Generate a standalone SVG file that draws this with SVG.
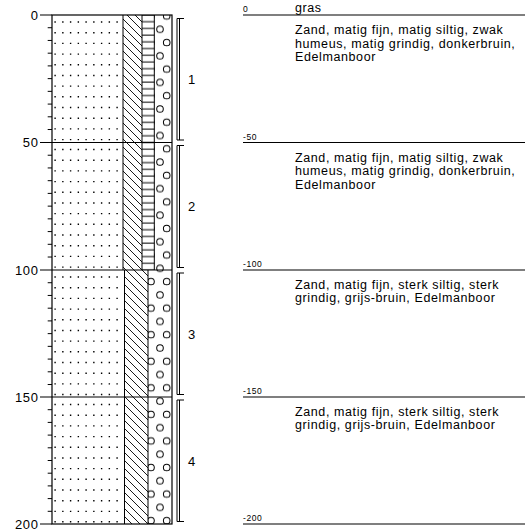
<svg xmlns="http://www.w3.org/2000/svg" width="525" height="532" viewBox="0 0 525 532">
<style>
  .ln{stroke:#000;stroke-width:1;fill:none}
  .ol{stroke:#000;stroke-width:1.2;fill:none}
  .dt{stroke:#000;stroke-width:1.4;fill:none;stroke-dasharray:1.4 6.35}
  .ax{font-family:"Liberation Sans",Arial,sans-serif;font-size:13px;fill:#000;letter-spacing:0.6px}
  .ds{font-family:"Liberation Sans",Arial,sans-serif;font-size:12.5px;fill:#000;letter-spacing:0.6px}
  .sm{font-family:"Liberation Sans",Arial,sans-serif;font-size:8.5px;fill:#000;letter-spacing:0.6px}
</style>
<defs>
  <pattern id="hatch" patternUnits="userSpaceOnUse" x="0" y="0" width="8" height="8">
    <path d="M0,0 L8,8 M-2,6 L2,10 M6,-2 L10,2" stroke="#000" stroke-width="0.9"/>
  </pattern>
  <pattern id="ladder" patternUnits="userSpaceOnUse" x="0" y="12" width="20" height="6.7105">
    <line x1="0" y1="3" x2="20" y2="3" stroke="#000" stroke-width="1"/>
  </pattern>
  <pattern id="gravel" patternUnits="userSpaceOnUse" x="148" y="2.7" width="30" height="26.56">
    <g fill="none" stroke="#000" stroke-width="1">
      <circle cx="3" cy="13.28" r="3.3"/>
      <circle cx="18.7" cy="13.28" r="3.3"/>
      <circle cx="12" cy="0" r="3.3"/>
      <circle cx="12" cy="26.56" r="3.3"/>
    </g>
  </pattern>
</defs>
<rect width="525" height="532" fill="#fff"/>

<g id="column">
  <path class="dt" d="M54.4,22 H119 M54.4,32.7 H119 M54.4,43.4 H119 M54.4,54.1 H119 M54.4,64.8 H119 M54.4,75.5 H119 M54.4,86.1 H119 M54.4,96.8 H119 M54.4,107.5 H119 M54.4,118.2 H119 M54.4,128.9 H119 M54.4,139.6 H119
  M54.4,149.5 H119 M54.4,160.2 H119 M54.4,170.9 H119 M54.4,181.6 H119 M54.4,192.3 H119 M54.4,203 H119 M54.4,213.6 H119 M54.4,224.3 H119 M54.4,235 H119 M54.4,245.7 H119 M54.4,256.4 H119 M54.4,267.1 H119
  M54.4,277 H119 M54.4,287.7 H119 M54.4,298.4 H119 M54.4,309.1 H119 M54.4,319.8 H119 M54.4,330.5 H119 M54.4,341.1 H119 M54.4,351.8 H119 M54.4,362.5 H119 M54.4,373.2 H119 M54.4,383.9 H119 M54.4,394.5 H119
  M54.4,404.5 H119 M54.4,415.2 H119 M54.4,425.9 H119 M54.4,436.6 H119 M54.4,447.3 H119 M54.4,458 H119 M54.4,468.6 H119 M54.4,479.3 H119 M54.4,490 H119 M54.4,500.7 H119 M54.4,511.4 H119 M54.4,521.8 H119"/>
  <rect x="123" y="15" width="19" height="255" fill="url(#hatch)"/>
  <rect x="142" y="15" width="12.3" height="255" fill="url(#ladder)"/>
  <rect x="154.3" y="15" width="17.7" height="255" fill="url(#gravel)"/>
  <rect x="124.5" y="270" width="23.5" height="254" fill="url(#hatch)"/>
  <rect x="148" y="270" width="24" height="254" fill="url(#gravel)"/>
  <path class="ln" d="M123,15 V270 M142,15 V270 M154.3,15 V270 M124.5,270 V524 M148,270 V524"/>
  <rect class="ol" x="52" y="15" width="120" height="509"/>
</g>

<g id="axis">
  <path class="ol" d="M40,15 H52 M40,142.5 H172 M40,270 H172 M40,397 H172 M40,524 H52"/>
  <path class="ln" d="M47.7,27.73 H52 M47.7,40.45 H52 M47.7,53.18 H52 M47.7,65.9 H52 M47.7,78.63 H52 M47.7,91.35 H52 M47.7,104.08 H52 M47.7,116.8 H52 M47.7,129.53 H52
  M47.7,155.23 H52 M47.7,167.95 H52 M47.7,180.68 H52 M47.7,193.4 H52 M47.7,206.13 H52 M47.7,218.85 H52 M47.7,231.58 H52 M47.7,244.3 H52 M47.7,257.03 H52
  M47.7,282.73 H52 M47.7,295.45 H52 M47.7,308.18 H52 M47.7,320.9 H52 M47.7,333.63 H52 M47.7,346.35 H52 M47.7,359.08 H52 M47.7,371.8 H52 M47.7,384.53 H52
  M47.7,409.7 H52 M47.7,422.4 H52 M47.7,435.1 H52 M47.7,447.8 H52 M47.7,460.5 H52 M47.7,473.2 H52 M47.7,485.9 H52 M47.7,498.6 H52 M47.7,511.3 H52"/>
  <g class="ax" text-anchor="end">
    <text x="38.5" y="19.5">0</text>
    <text x="38.5" y="147">50</text>
    <text x="38.5" y="274.5">100</text>
    <text x="38.5" y="401.5">150</text>
    <text x="38.5" y="528.5">200</text>
  </g>
</g>

<g id="layer1">
  <path class="ln" d="M184,18.5 H177 V140 H184 M179.5,18.5 V140"/>
  <text class="ax" x="188" y="84">1</text>
</g>
<g id="layer2">
  <path class="ln" d="M184,145.5 H177 V267.5 H184 M179.5,145.5 V267.5"/>
  <text class="ax" x="188" y="211">2</text>
</g>
<g id="layer3">
  <path class="ln" d="M184,273 H177 V394.5 H184 M179.5,273 V394.5"/>
  <text class="ax" x="188" y="338.5">3</text>
</g>
<g id="layer4">
  <path class="ln" d="M184,400 H177 V521.5 H184 M179.5,400 V521.5"/>
  <text class="ax" x="188" y="465.5">4</text>
</g>

<g id="descriptions">
  <path class="ol" d="M243,15 H525 M243,142.5 H525 M243,270 H525 M243,397 H525 M243,524 H525"/>
  <text class="sm" x="243" y="11.5">0</text>
  <text class="sm" x="243" y="139.5">-50</text>
  <text class="sm" x="243" y="267">-100</text>
  <text class="sm" x="243" y="394">-150</text>
  <text class="sm" x="243" y="521">-200</text>
  <text class="ds" x="295" y="12">gras</text>
  <text class="ds" x="295" y="34">Zand, matig fijn, matig siltig, zwak</text>
  <text class="ds" x="295" y="47.5">humeus, matig grindig, donkerbruin,</text>
  <text class="ds" x="295" y="61">Edelmanboor</text>
  <text class="ds" x="295" y="161.5">Zand, matig fijn, matig siltig, zwak</text>
  <text class="ds" x="295" y="175">humeus, matig grindig, donkerbruin,</text>
  <text class="ds" x="295" y="188.5">Edelmanboor</text>
  <text class="ds" x="295" y="288.5">Zand, matig fijn, sterk siltig, sterk</text>
  <text class="ds" x="295" y="302">grindig, grijs-bruin, Edelmanboor</text>
  <text class="ds" x="295" y="415.5">Zand, matig fijn, sterk siltig, sterk</text>
  <text class="ds" x="295" y="429">grindig, grijs-bruin, Edelmanboor</text>
</g>
</svg>
